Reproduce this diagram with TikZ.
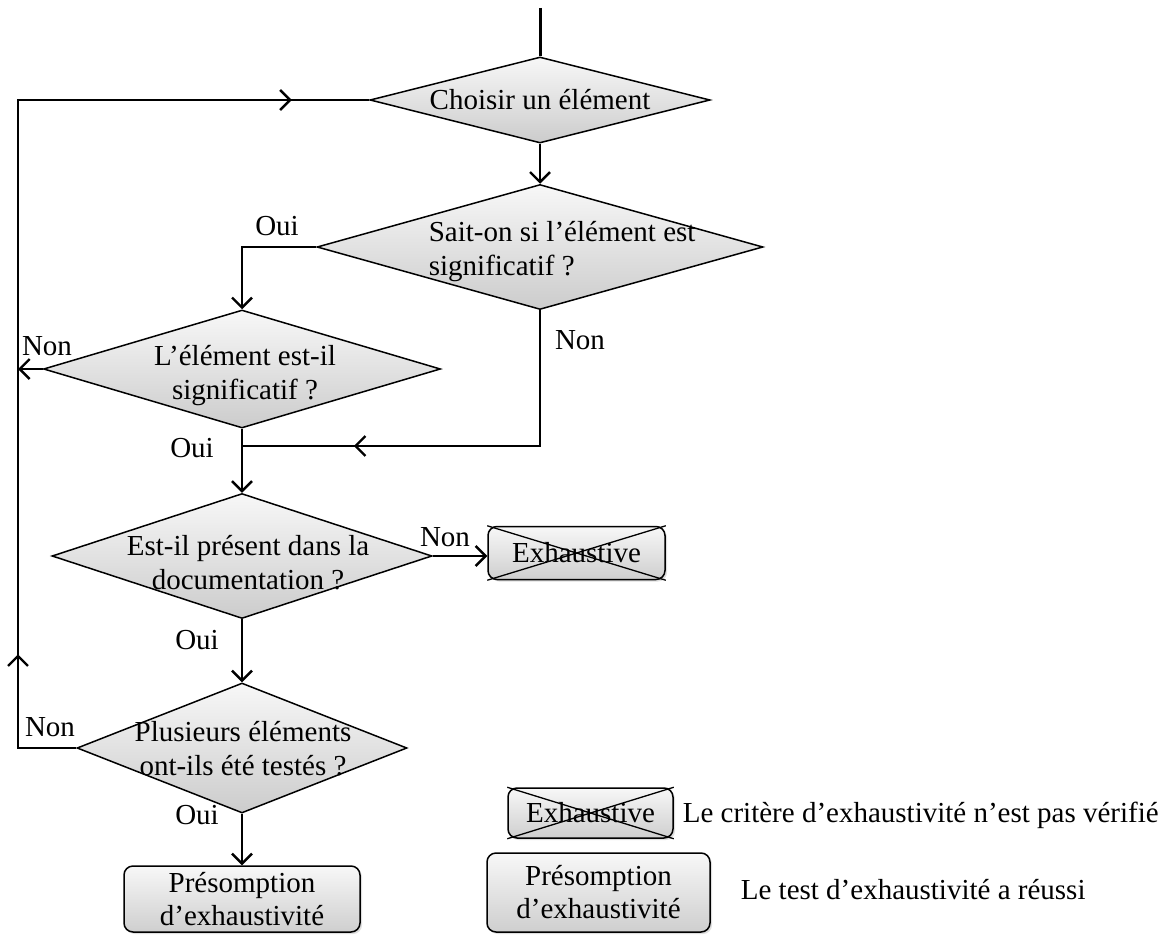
\documentclass[tikz,border=0pt]{standalone}
\usepackage{fontspec}
\setmainfont{Liberation Serif}
\usetikzlibrary{shapes.geometric,arrows.meta,decorations.markings,shadows}
\begin{document}
\begin{tikzpicture}[x=1pt,y=-1pt,line width=1.7pt,
  tipstyle/.tip={Straight Barb[length=10pt,width=20pt,line width=2.4pt]},
  arr/.style={-tipstyle},
  midarr/.style={postaction={decorate,decoration={markings,mark=at position #1 with {\arrow{tipstyle}}}}},
  dia/.style={diamond,draw,line width=1.5pt,inner sep=0pt,top color=gray!6,bottom color=gray!40},
  box/.style={rectangle,rounded corners=9pt,draw,line width=1.5pt,inner sep=0pt,top color=gray!6,bottom color=gray!38,
    drop shadow={shadow xshift=2pt,shadow yshift=-2pt,opacity=.25},
    font=\fontsize{29}{33}\selectfont,align=center},
  txt/.style={font=\fontsize{29}{34}\selectfont,align=center,inner sep=0pt},
  lab/.style={font=\fontsize{29}{34}\selectfont,inner sep=0pt}]
\useasboundingbox (0,0) rectangle (1164,939);

% diamonds
\node[dia,minimum width=340pt,minimum height=86pt] (d1) at (540,100) {};
\node[txt] (t1) at (540,100) {Choisir un élément};
\node[dia,minimum width=446pt,minimum height=125pt] (d2) at (540,247) {};
\node[txt,align=left,anchor=west] (t2) at (428,252) {Sait-on si l’élément est\\significatif ?};
\node[dia,minimum width=397pt,minimum height=118pt] (d3) at (242,369) {};
\node[txt] (t3) at (245,376) {L’élément est-il\\significatif ?};
\node[dia,minimum width=380pt,minimum height=125pt] (d4) at (242,556) {};
\node[txt] (t4) at (248,563) {Est-il présent dans la\\documentation ?};
\node[dia,minimum width=330pt,minimum height=130pt] (d5) at (242,748) {};
\node[txt] (t5) at (243,749) {Plusieurs éléments\\ont-ils été testés ?};

% boxes
\node[box,minimum width=177pt,minimum height=53pt] (ex) at (576.5,553) {Exhaustive};
\draw[line width=1.3pt] (ex.north west) -- (ex.south east) (ex.south west) -- (ex.north east);
\node[box,minimum width=236pt,minimum height=66pt] (pr) at (242,899) {Présomption\\d’exhaustivité};

% legend
\node[box,minimum width=165pt,minimum height=50pt] (lex) at (590.5,813) {Exhaustive};
\draw[line width=1.3pt] (lex.north west) -- (lex.south east) (lex.south west) -- (lex.north east);
\node[lab,anchor=west] (lext) at (682,815) {Le critère d’exhaustivité n’est pas vérifié};
\node[box,minimum width=223pt,minimum height=79pt] (lpr) at (598.5,892.5) {Présomption\\d’exhaustivité};
\node[lab,anchor=west] (lprt) at (740,890) {Le test d’exhaustivité a réussi};

% coordinates
\coordinate (start) at (540,8);
\coordinate (lt) at (18,100);
\coordinate (lb) at (18,748);
\coordinate (j) at (242,446);

% connectors
\draw[line width=3pt] (start) -- (d1.north);
\draw[arr] (d1.south) -- (d2.north);
\draw[arr] (d2.west) -| (d3.north);
\draw[midarr=322pt] (d2.south) |- (j);
\draw[arr] (d3.west) -- (d3.west -| lt);
\draw[arr] (d3.south) -- (d4.north);
\draw[arr] (d4.east) -- (d4.east -| ex.west);
\draw[arr] (d4.south) -- (d5.north);
\draw[arr] (d5.south) -- (pr.north);
\draw[midarr=152pt,midarr=980pt] (d5.west) -- (lb) -- (lt) -- (d1.west);

% labels
\node[lab] (l1) at (277,226) {Oui};
\node[lab] (l2) at (47,346) {Non};
\node[lab] (l3) at (580,340) {Non};
\node[lab] (l4) at (192,448) {Oui};
\node[lab] (l5) at (445,537) {Non};
\node[lab] (l6) at (197,640) {Oui};
\node[lab] (l7) at (50,727) {Non};
\node[lab] (l8) at (197,815) {Oui};
\end{tikzpicture}
\end{document}
